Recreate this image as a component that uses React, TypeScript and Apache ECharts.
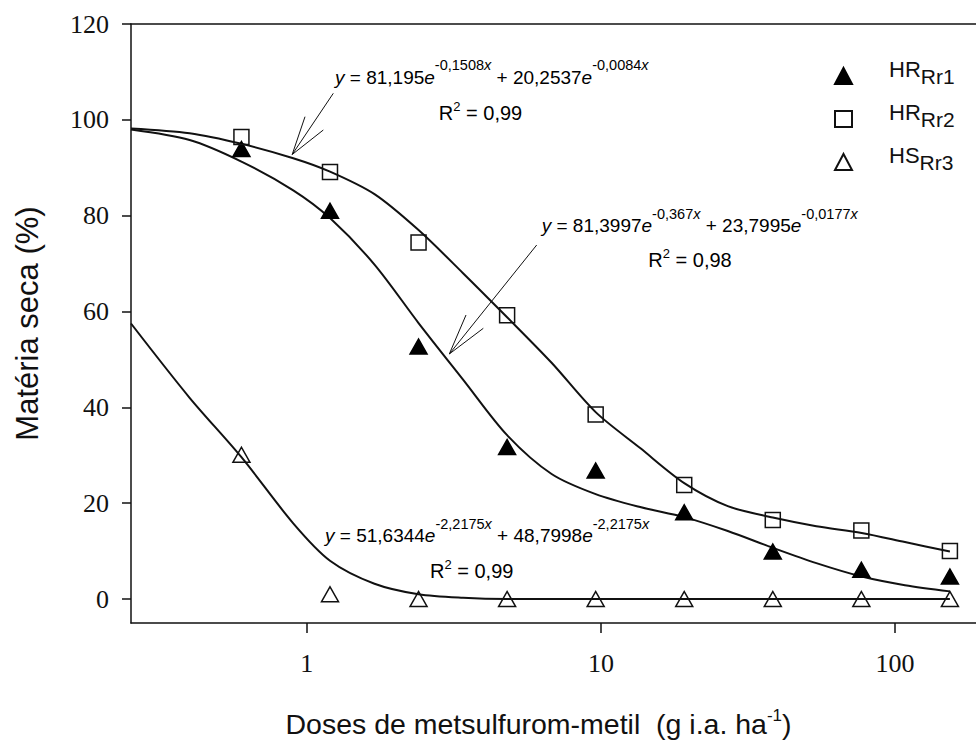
import React, { useEffect, useRef } from 'react';
import * as echarts from 'echarts';

// Observed doses (g i.a. ha-1) and dry-matter (%) per biotype
const doses = [0.6, 1.2, 2.4, 4.8, 9.6, 19.2, 38.4, 76.8, 153.6];
const hrRr1 = [93.9, 81.0, 52.7, 31.7, 26.8, 18.1, 9.9, 6.1, 4.7];
const hrRr2 = [96.4, 89.1, 74.4, 59.2, 38.5, 23.8, 16.5, 14.3, 10.0];
const hsRr3 = [30.1, 1.0, 0, 0, 0, 0, 0, 0, 0];

// Fitted curves
const fitDoses = [0.2528, 0.4, 0.6, 0.9, 1.2, 1.7, 2.4, 3.4, 4.8, 6.8, 9.6, 13.6, 19.2, 27, 38.4, 54, 77, 108, 153.6];
const fitRr2Values = [98.2, 97.2, 95.0, 92.0, 89.2, 84.5, 77.0, 68.0, 58.8, 49.3, 39.0, 31.5, 24.2, 19.4, 17.0, 15.2, 13.8, 11.9, 9.9];
const fitRr1Values = [98.0, 95.8, 91.3, 85.3, 79.5, 69.8, 57.6, 45.8, 34.2, 26.1, 21.9, 19.2, 17.1, 14.2, 10.7, 7.5, 4.7, 2.9, 1.6];
const fitRr3Values = [57.5, 42.0, 29.6, 15.8, 8.0, 3.2, 1.0, 0.25, 0, 0, 0, 0, 0, 0, 0, 0, 0, 0, 0];

const seriesNames = ['HRRr1', 'HRRr2', 'HSRr3'];
const yTicks = [0, 20, 40, 60, 80, 100, 120];
const xTicks = [1, 10, 100];

export default function App() {
  const ref = useRef<HTMLDivElement>(null);
  useEffect(() => {
    document.body.style.margin = '0';
    const chart = echarts.init(ref.current!, null, { renderer: 'svg' });
    const pair = (xs: number[], ys: number[]) => xs.map((x, i) => [x, ys[i]]);
    const sans = '"Liberation Sans", Arial, sans-serif';
    const serif = '"Liberation Serif", "Times New Roman", serif';
    const ink = '#111111';

    const eqRich: any = {
      m: { fontSize: 19, lineHeight: 19, fontFamily: sans, color: ink, verticalAlign: 'bottom' },
      i: { fontSize: 19, lineHeight: 19, fontFamily: sans, fontStyle: 'italic', color: ink, verticalAlign: 'bottom' },
      s: { fontSize: 14.5, lineHeight: 14.5, fontFamily: sans, color: ink, padding: [0, 0, 14, 0], verticalAlign: 'bottom' },
      si: { fontSize: 14.5, lineHeight: 14.5, fontFamily: sans, fontStyle: 'italic', color: ink, padding: [0, 0, 14, 0], verticalAlign: 'bottom' },
      r: { fontSize: 20, lineHeight: 20, fontFamily: sans, color: ink, verticalAlign: 'bottom' },
      r2: { fontSize: 13, lineHeight: 13, fontFamily: sans, color: ink, padding: [0, 0, 10, 0], verticalAlign: 'bottom' },
    };
    const eq = (a: string, ea: string, b: string, eb: string) =>
      `{i|y}{m| = ${a}}{i|e}{s|${ea}}{si|x}{m| + ${b}}{i|e}{s|${eb}}{si|x}`;
    const r2 = (v: string) => `{r|R}{r2|2}{r| = ${v}}`;

    const eqText = (x: number, y: number, text: string, align: string) => ({
      type: 'text',
      x,
      y,
      style: { text, rich: eqRich, align, verticalAlign: 'bottom' },
    });
    const seg = (x1: number, y1: number, x2: number, y2: number) => ({
      type: 'line',
      shape: { x1, y1, x2, y2 },
      style: { stroke: ink, lineWidth: 1 },
    });

    const markerStyle = (filled: boolean) => ({
      color: filled ? '#000000' : 'rgba(255,255,255,0)',
      borderColor: filled ? '#000000' : ink,
      borderWidth: 1.5,
      opacity: 1,
    });
    const fitLine = (name: string, ys: number[]) => ({
      name,
      type: 'line',
      data: pair(fitDoses, ys),
      showSymbol: false,
      smooth: 0.3,
      lineStyle: { color: ink, width: 2 },
      z: 2,
      silent: true,
    });

    chart.setOption({
      animation: false,
      backgroundColor: '#ffffff',
      grid: { left: 131, top: 24, right: 0, bottom: 117, containLabel: false, outerBoundsMode: 'none' },
      legend: {
        data: seriesNames,
        orient: 'vertical',
        left: 829,
        top: 53,
        itemWidth: 17,
        itemHeight: 16,
        itemGap: 14,
        formatter: (n: string) => `{m|${n.slice(0, 2)}}{s|${n.slice(2)}}`,
        textStyle: {
          rich: {
            m: { fontSize: 22, lineHeight: 22, fontFamily: sans, color: ink, padding: [0, 0, 7, 32], verticalAlign: 'bottom' },
            s: { fontSize: 21, lineHeight: 21, fontFamily: sans, color: ink, verticalAlign: 'bottom' },
          },
        },
      },
      xAxis: [
        {
          type: 'log',
          logBase: 10,
          min: 0.2528,
          max: 188.4,
          position: 'bottom',
          name: '{m|Doses de metsulfurom-metil  (g i.a. ha}{s|-1}{m|)}',
          nameLocation: 'middle',
          nameGap: 86,
          nameTextStyle: {
            padding: [0, 30, 0, 0],
            rich: {
              m: { fontSize: 28.5, lineHeight: 29, fontFamily: sans, color: ink, verticalAlign: 'bottom' },
              s: { fontSize: 17, lineHeight: 17, fontFamily: sans, color: ink, padding: [0, 0, 14, 0], verticalAlign: 'bottom' },
            },
          },
          axisLine: { show: true, onZero: false, lineStyle: { color: ink, width: 1.5 } },
          axisTick: { show: true, length: 10, customValues: xTicks, lineStyle: { color: ink, width: 1.5 } },
          axisLabel: { customValues: xTicks, margin: 27, fontSize: 26, fontFamily: serif, color: ink, formatter: (v: number) => String(v) },
          splitLine: { show: false },
          minorTick: { show: false },
        },
        {
          type: 'log',
          logBase: 10,
          min: 0.2528,
          max: 188.4,
          position: 'top',
          axisLine: { show: true, onZero: false, lineStyle: { color: ink, width: 1.5 } },
          axisTick: { show: false },
          axisLabel: { show: false },
          splitLine: { show: false },
        },
      ],
      yAxis: {
        type: 'value',
        min: -5,
        max: 120,
        name: 'Matéria seca (%)',
        nameLocation: 'middle',
        nameGap: 88,
        nameTextStyle: { fontSize: 31, fontFamily: sans, color: ink },
        axisLine: { show: true, lineStyle: { color: ink, width: 1.5 } },
        axisTick: { show: true, length: 9, customValues: yTicks, lineStyle: { color: ink, width: 1.5 } },
        axisLabel: { customValues: yTicks, margin: 22, fontSize: 26, fontFamily: serif, color: ink },
        splitLine: { show: false },
      },
      series: [
        fitLine('fit HRRr1', fitRr1Values),
        fitLine('fit HRRr2', fitRr2Values),
        fitLine('fit HSRr3', fitRr3Values),
        { name: 'HRRr1', type: 'scatter', symbol: 'triangle', symbolSize: [17, 15], data: pair(doses, hrRr1), itemStyle: markerStyle(true), z: 3 },
        { name: 'HRRr2', type: 'scatter', symbol: 'rect', symbolSize: 15, data: pair(doses, hrRr2), itemStyle: markerStyle(false), z: 3 },
        { name: 'HSRr3', type: 'scatter', symbol: 'triangle', symbolSize: [17, 15], data: pair(doses, hsRr3), itemStyle: markerStyle(false), z: 3 },
      ],
      graphic: [
        eqText(335, 86.5, eq('81,195', '-0,1508', '20,2537', '-0,0084'), 'left'),
        eqText(480.5, 123.3, r2('0,99'), 'center'),
        eqText(541.7, 235.3, eq('81,3997', '-0,367', '23,7995', '-0,0177'), 'left'),
        eqText(690, 270, r2('0,98'), 'center'),
        eqText(325, 545.3, eq('51,6344', '-2,2175', '48,7998', '-2,2175'), 'left'),
        eqText(471.7, 580.8, r2('0,99'), 'center'),
        seg(333.3, 93.3, 292.2, 154.5),
        seg(292.2, 154.5, 305, 116.7),
        seg(292.2, 154.5, 323.3, 130),
        seg(536.7, 245, 449.3, 354),
        seg(449.3, 354, 466, 315),
        seg(449.3, 354, 483.3, 328.3),
      ],
    } as any);
    return () => chart.dispose();
  }, []);
  return <div ref={ref} style={{ position: 'absolute', left: 0, top: 0, width: 976, height: 740 }} />;
}
